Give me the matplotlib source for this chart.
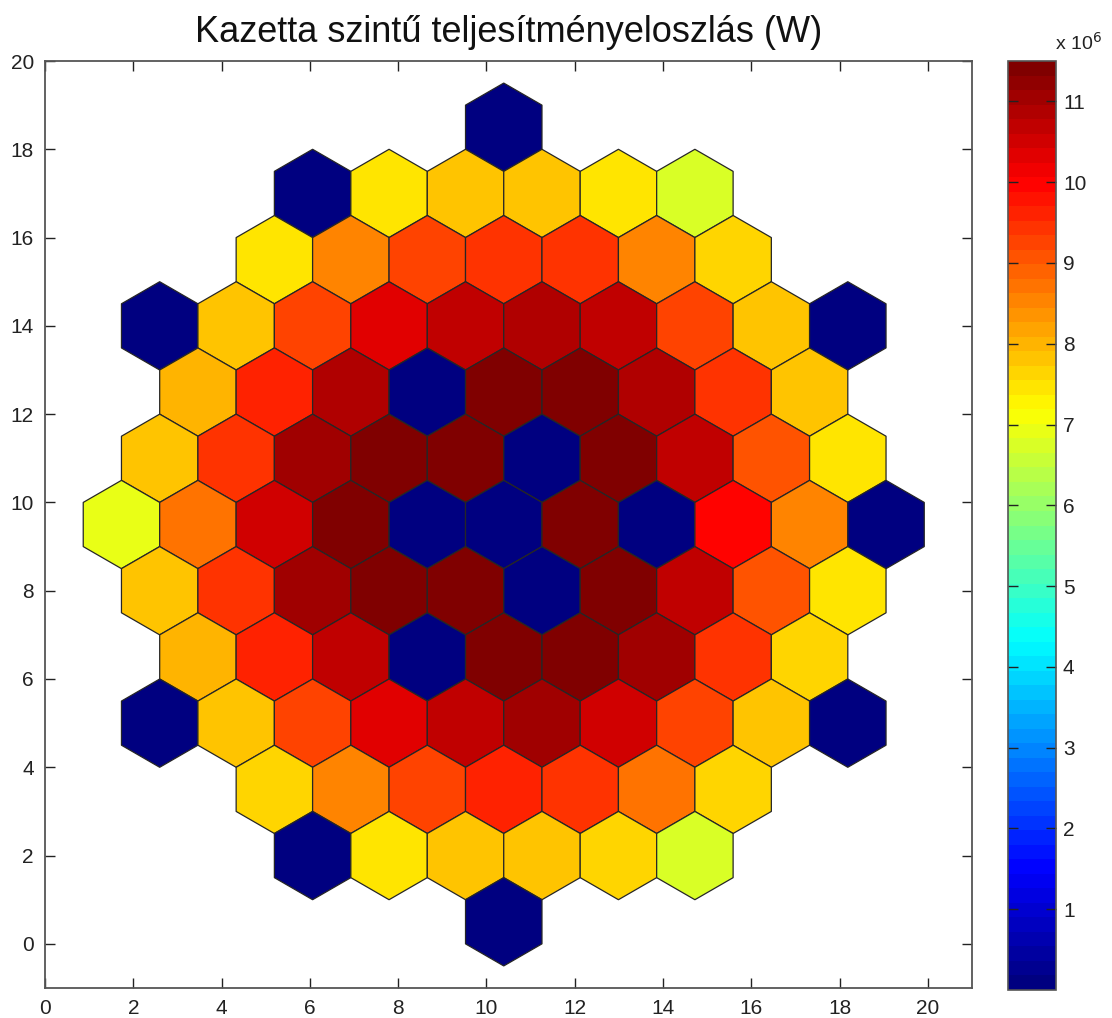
import numpy as np
import matplotlib
matplotlib.use("Agg")
import matplotlib.pyplot as plt
from matplotlib.patches import RegularPolygon
from matplotlib.collections import PatchCollection
from matplotlib.colors import LinearSegmentedColormap

plt.rcParams['font.family'] = ['Liberation Sans', 'DejaVu Sans']

# Assembly power values (units of 10^6 W), rows listed from top (y=18.5) to bottom (y=0.5)
row_00 = [0.0]
row_01 = [0.0, 7.5, 7.75, 7.8, 7.5, 6.75]
row_02 = [7.4, 8.6, 9.3, 9.35, 9.45, 8.55, 7.55]
row_03 = [0.0, 7.75, 9.3, 10.25, 10.65, 10.85, 10.65, 9.3, 7.75, 0.0]
row_04 = [8.0, 9.7, 10.8, 0.0, 11.35, 11.5, 10.95, 9.5, 7.8]
row_05 = [7.75, 9.5, 11.0, 11.5, 11.4, 0.0, 11.35, 10.65, 9.15, 7.4]
row_06 = [7.0, 8.7, 10.6, 11.5, 0.0, 0.0, 11.4, 0.0, 10.05, 8.5, 0.0]
row_07 = [7.75, 9.5, 11.05, 11.5, 11.4, 0.0, 11.4, 10.65, 9.15, 7.4]
row_08 = [7.95, 9.55, 10.75, 0.0, 11.35, 11.5, 11.0, 9.5, 7.55]
row_09 = [0.0, 7.75, 9.3, 10.25, 10.75, 11.0, 10.6, 9.3, 7.75, 0.0]
row_10 = [7.55, 8.6, 9.2, 9.7, 9.5, 8.7, 7.55]
row_11 = [0.0, 7.4, 7.75, 7.8, 7.55, 6.75]
row_12 = [0.0]
rows = [row_00, row_01, row_02, row_03, row_04, row_05, row_06,
        row_07, row_08, row_09, row_10, row_11, row_12]

title = "Kazetta szintű teljesítményeloszlás (W)"
cbar_ticks = [1, 2, 3, 4, 5, 6, 7, 8, 9, 10, 11]
axis_ticks = [0, 2, 4, 6, 8, 10, 12, 14, 16, 18, 20]

# MATLAB-style jet colormap, 64 levels
matlab_jet = LinearSegmentedColormap('mjet', {
    'red':   [(0, 0, 0), (3/8, 0, 0), (5/8, 1, 1), (7/8, 1, 1), (1, 0.5, 0.5)],
    'green': [(0, 0, 0), (1/8, 0, 0), (3/8, 1, 1), (5/8, 1, 1), (7/8, 0, 0), (1, 0, 0)],
    'blue':  [(0, 0.5, 0.5), (1/8, 1, 1), (3/8, 1, 1), (5/8, 0, 0), (1, 0, 0)],
}, N=64)

fig = plt.figure(figsize=(11.12, 10.18), dpi=100)
ax = fig.add_axes([45/1112, 30/1018, 927/1112, 927/1018])
cax = fig.add_axes([1008/1112, 28/1018, 48/1112, 929/1018])

# hex geometry: pointy-top hexagons, circumradius 1
R = 1.0
dx = np.sqrt(3) * R
dy = 1.5 * R
cx = 6 * dx
n_rows = len(rows)
patches, values = [], []
for r, vals in enumerate(rows):
    y = 0.5 + dy * (n_rows - 1 - r)
    n = len(vals)
    for k, v in enumerate(vals):
        x = cx + dx * (k - (n - 1) / 2)
        patches.append(RegularPolygon((x, y), numVertices=6, radius=R, orientation=0))
        values.append(v)

pc = PatchCollection(patches, cmap=matlab_jet, edgecolor='#262626', linewidth=0.9)
pc.set_array(np.array(values))
pc.set_clim(0, 11.5)
ax.add_collection(pc)

ax.set_xlim(0, 21)
ax.set_ylim(-1, 20)
ax.set_xticks(axis_ticks)
ax.set_yticks(axis_ticks)
ax.tick_params(direction='in', length=7, width=1.0, top=True, right=True,
               labelsize=15, pad=8, colors='#222222')
for s in ax.spines.values():
    s.set_color('#555555')
    s.set_linewidth(1.3)
ax.set_title(title, fontsize=26, pad=14, color='#111111')

cb = fig.colorbar(pc, cax=cax, ticks=cbar_ticks)
cb.outline.set_edgecolor('#555555')
cb.outline.set_linewidth(1.2)
cax.tick_params(direction='in', length=7, width=1.0, left=True, right=True,
                labelsize=15, pad=5, colors='#222222')
fig.text(1055/1112, 1 - 50/1018, r"x 10$^{6}$", fontsize=14, ha='left', va='baseline', color='#222222')

fig.savefig("out.png", dpi=100)
